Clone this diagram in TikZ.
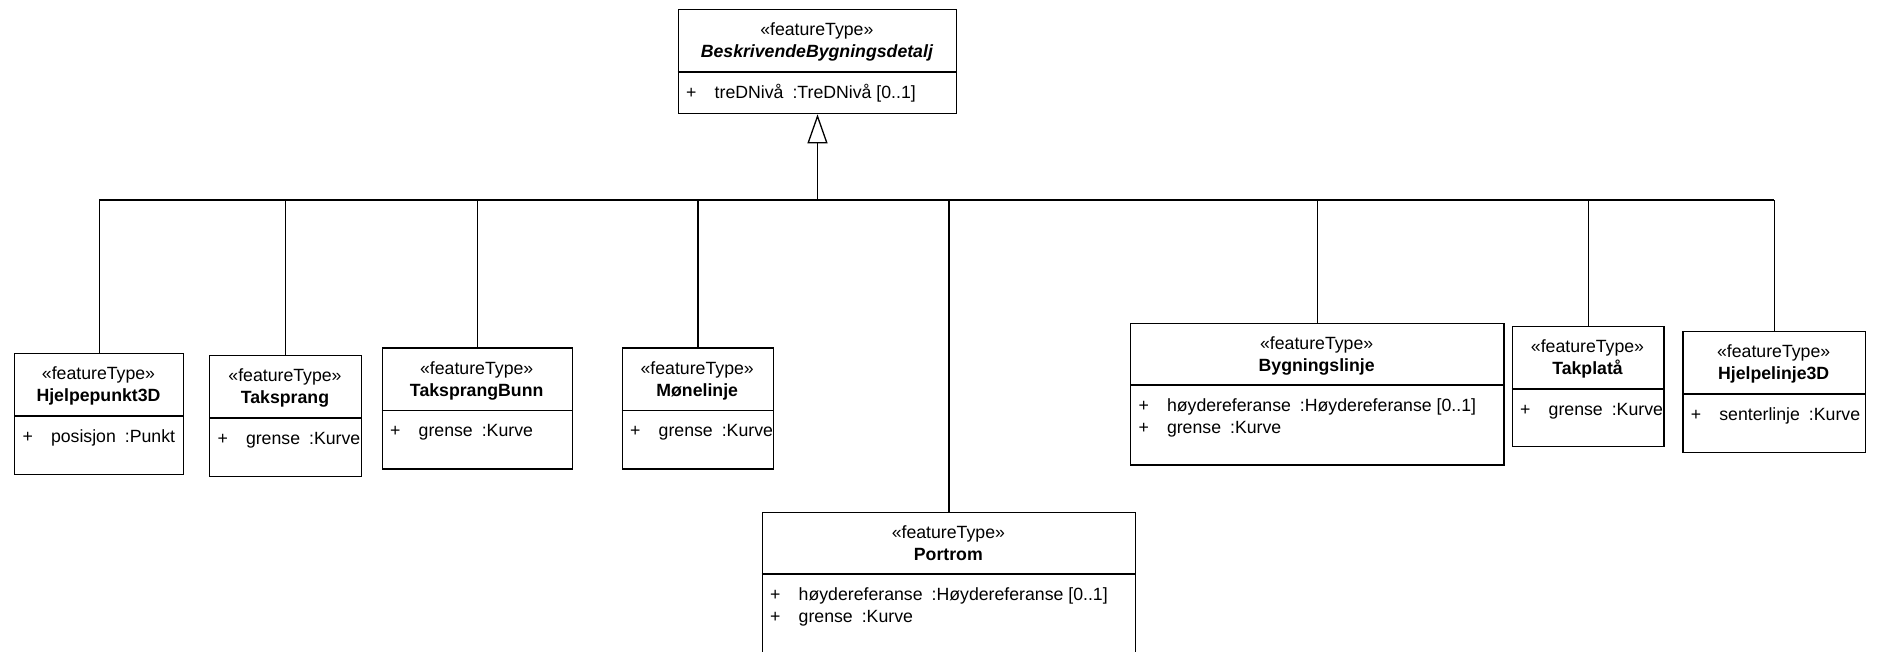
\documentclass[tikz,border=0pt]{standalone}
\usepackage{fontspec}
\setmainfont{Liberation Sans}
\usetikzlibrary{arrows.meta}
\tikzset{
  classbox/.style={draw=black, line width=1.3pt, fill=white, rectangle, inner sep=0pt},
  classline/.style={draw=black, line width=1.3pt},
  conn/.style={draw=black, line width=1.3pt},
  txt/.style={inner sep=0pt, outer sep=0pt, font=\fontsize{17.7}{22}\selectfont},
}
% #1 name, #2 x1, #3 y1, #4 x2, #5 y2, #6 separator y, #7 title
\newcommand\umlbox[7]{%
  \node[classbox, minimum width={#4-#2}, minimum height={#5-#3}, anchor=north west] (#1) at (#2,#3) {};
  \draw[classline] (#2,#6) -- (#4,#6);
  \node[txt, anchor=base] (#1-st) at ({(#2+#4)/2},{#3+27}) {«featureType»};
  \node[txt, anchor=base] (#1-nm) at ({(#2+#4)/2},{#3+49}) {\bfseries #7};
}
% #1 node name, #2 x1 of box, #3 baseline y, #4 attribute name, #5 type
\newcommand\umlattr[5]{%
  \node[txt, anchor=base west] (#1-p) at ({#2+8.5},#3) {+};
  \node[txt, anchor=base west] (#1) at ({#2+37},#3) {#4\hspace{9pt}:#5};
}
\begin{document}
\begin{tikzpicture}[x=1pt,y=-1pt]
\useasboundingbox (0,0) rectangle (1877,651);

% top class
\node[classbox, minimum width=278.3, minimum height=104, anchor=north west] (top) at (677.7,9) {};
\draw[classline] (677.7,72) -- (956,72);
\node[txt, anchor=base] (top-st) at (816.85,35) {«featureType»};
\node[txt, anchor=base] (top-nm) at (816.85,57) {\bfseries\itshape BeskrivendeBygningsdetalj};
\umlattr{top-a1}{677.7}{98}{treDNivå}{TreDNivå [0..1]}

% subclasses
\umlbox{h3d}{14}{352.7}{183}{474}{416}{Hjelpepunkt3D}
\umlattr{h3d-a1}{14}{442}{posisjon}{Punkt}

\umlbox{tsp}{209}{354.7}{361}{475.7}{418}{Taksprang}
\umlattr{tsp-a1}{209}{444}{grense}{Kurve}

\umlbox{tsb}{381.7}{347.3}{571.7}{468.3}{410.7}{TaksprangBunn}
\umlattr{tsb-a1}{381.7}{436.7}{grense}{Kurve}

\umlbox{mon}{621.7}{347.3}{772.7}{468.3}{410.7}{Mønelinje}
\umlattr{mon-a1}{621.7}{436.7}{grense}{Kurve}

\umlbox{por}{761.7}{511.7}{1135}{690}{574}{Portrom}
\umlattr{por-a1}{761.7}{600}{høydereferanse}{Høydereferanse [0..1]}
\umlattr{por-a2}{761.7}{622}{grense}{Kurve}

\umlbox{byg}{1130}{322.7}{1503.3}{464.3}{385}{Bygningslinje}
\umlattr{byg-a1}{1130}{411}{høydereferanse}{Høydereferanse [0..1]}
\umlattr{byg-a2}{1130}{433}{grense}{Kurve}

\umlbox{tpl}{1511.7}{325.7}{1663.3}{446}{389}{Takplatå}
\umlattr{tpl-a1}{1511.7}{415}{grense}{Kurve}

\umlbox{hl3d}{1682.3}{330.7}{1865}{451.7}{394}{Hjelpelinje3D}
\umlattr{hl3d-a1}{1682.3}{420}{senterlinje}{Kurve}

% generalization bus
\coordinate (bus) at (0,200);
\draw[conn] (h3d.north |- bus) -- (hl3d.north |- bus);
\foreach \n in {h3d,tsp,tsb,mon,por,byg,tpl,hl3d}{
  \draw[conn] (\n.north) -- (\n.north |- bus);
}
\draw[conn, -{Triangle[open, length=29pt, width=20pt]}] (top.south |- bus) -- (top.south);
\end{tikzpicture}
\end{document}
